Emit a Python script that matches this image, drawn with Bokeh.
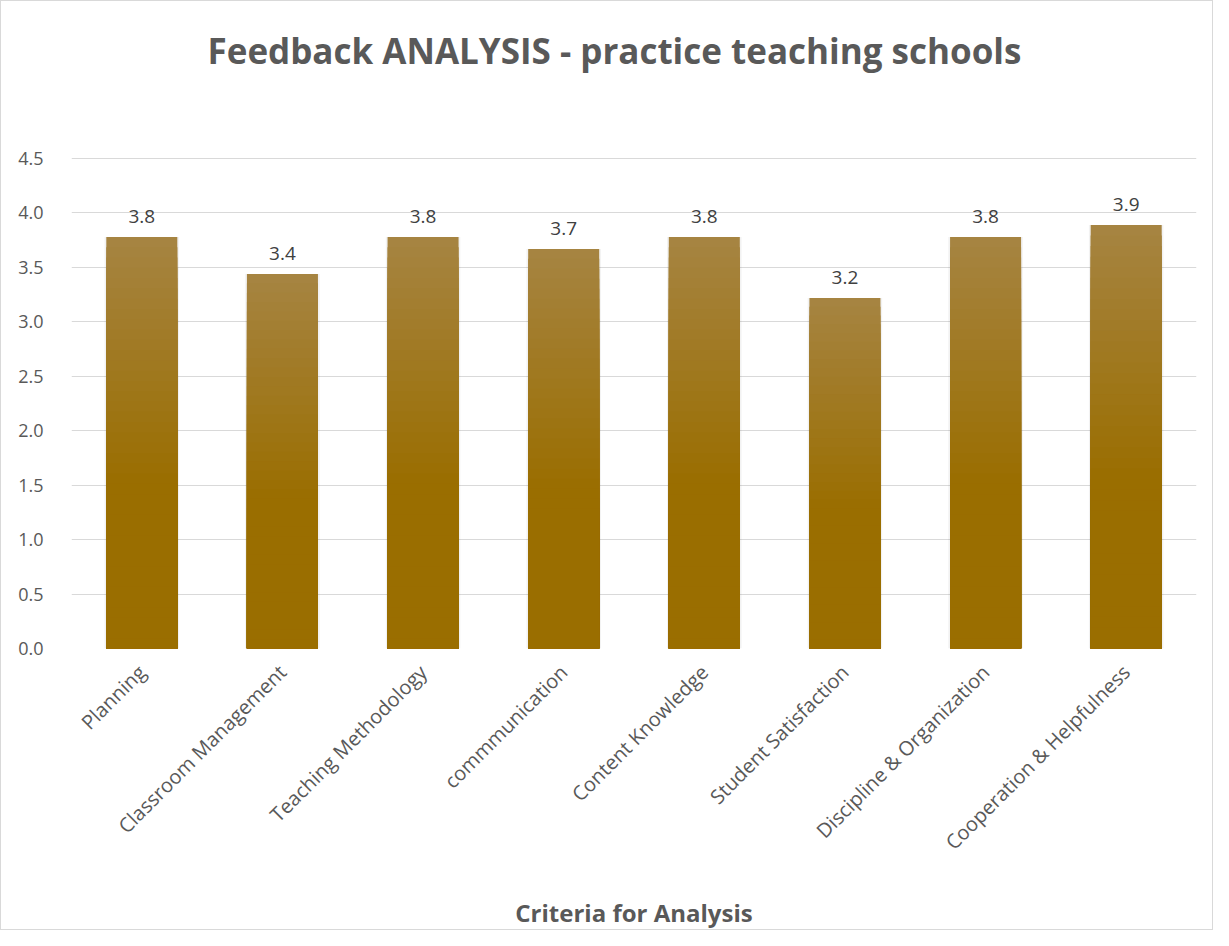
from bokeh.plotting import figure
from bokeh.models import FactorRange, Range1d, FixedTicker, ColumnDataSource, LabelSet, PrintfTickFormatter
from bokeh.core.properties import value
from bokeh.embed import file_html
from bokeh.resources import INLINE

categories = ["Planning", "Classroom Management", "Teaching Methodology", "commmunication",
              "Content Knowledge", "Student Satisfaction", "Discipline & Organization",
              "Cooperation & Helpfulness"]
values = [3.78, 3.44, 3.78, 3.67, 3.78, 3.22, 3.78, 3.89]
y_ticks = [0.0, 0.5, 1.0, 1.5, 2.0, 2.5, 3.0, 3.5, 4.0, 4.5]
title_text = "Feedback ANALYSIS - practice teaching schools"
x_title = "Criteria for Analysis"

FONT = "Open Sans"

p = figure(x_range=FactorRange(*categories, range_padding=0),
           y_range=Range1d(0, 5.097),
           width=1213, height=930, output_backend="svg", toolbar_location=None,
           min_border_left=70, min_border_right=18, min_border_top=92, min_border_bottom=282)
p.styles = {"border": "1px solid #d9d9d9"}
p.outline_line_color = None
p.background_fill_color = "white"
p.border_fill_color = "white"

p.title.text = title_text
p.title.align = "left"
p.title.offset = 136
p.title.text_font = FONT
p.title.text_font_style = "bold"
p.title.text_font_size = "35px"
p.title.text_color = "#595959"
p.title.standoff = 40

p.xgrid.grid_line_color = None
p.ygrid.grid_line_color = "#d9d9d9"
p.ygrid.grid_line_width = 1
p.yaxis.ticker = FixedTicker(ticks=y_ticks)
p.yaxis.formatter = PrintfTickFormatter(format="%.1f")

for ax in (p.xaxis, p.yaxis):
    ax.axis_line_color = None
    ax.major_tick_line_color = None
    ax.minor_tick_line_color = None
    ax.major_label_text_font = FONT
    ax.major_label_text_color = "#595959"

p.yaxis.major_label_text_font_size = "18px"
p.xaxis.major_label_text_font_size = "20px"
p.yaxis.major_label_standoff = 22
p.xaxis.major_label_orientation = 0.785398
p.xaxis.major_label_standoff = 14
p.xaxis.axis_label = x_title
p.xaxis.axis_label_text_font = FONT
p.xaxis.axis_label_text_font_style = "bold"
p.xaxis.axis_label_text_font_size = "24px"
p.xaxis.axis_label_text_color = "#595959"
p.xaxis.axis_label_standoff = 28

src = ColumnDataSource(dict(cat=categories, val=values,
                            lab=["%.1f" % v for v in values]))

# soft shadow
p.vbar(x="cat", top="val", width=0.53, source=src, fill_color="#000000", fill_alpha=0.05,
       line_color=None)

# gradient bars: overlapping bands drawn tallest first
N = 40
top_rgb = (166, 132, 66)
base_rgb = (154, 110, 0)
for k in reversed(range(N)):
    f1 = (k + 1) / N
    fm = (k + 0.5) / N
    t = max(0.0, (fm - 0.4) / 0.6)
    col = tuple(int(round(base_rgb[i] + (top_rgb[i] - base_rgb[i]) * t)) for i in range(3))
    hexcol = "#%02x%02x%02x" % col
    p.vbar(x=categories, bottom=0, top=[v * f1 for v in values],
           width=0.505, fill_color=hexcol, line_color=None)

labels = LabelSet(x="cat", y="val", text="lab", source=src, text_align="center",
                  text_baseline="bottom", y_offset=14, text_font=value(FONT),
                  text_font_size=value("19px"), text_color=value("#404040"))
p.add_layout(labels)

open("out.html", "w").write(file_html(p, INLINE))
